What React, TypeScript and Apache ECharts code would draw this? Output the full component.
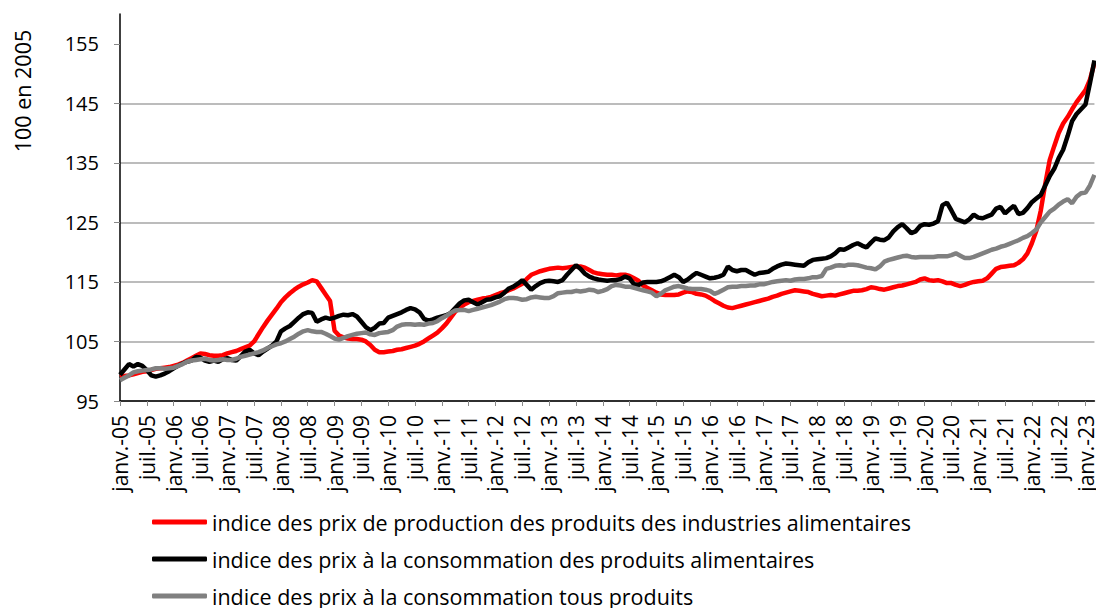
import React, { useEffect, useRef } from "react";
import * as echarts from "echarts";

const MONTHS = ["janv.", "févr.", "mars", "avr.", "mai", "juin", "juil.", "août", "sept.", "oct.", "nov.", "déc."];
const YEARS = ["05", "06", "07", "08", "09", "10", "11", "12", "13", "14", "15", "16", "17", "18", "19", "20", "21", "22", "23"];
const N_POINTS = 219; // janv.-05 .. mars-23

const categories: string[] = [];
for (const y of YEARS) for (const m of MONTHS) categories.push(`${m}-${y}`);
const cats = categories.slice(0, N_POINTS);

const Y_TICKS = [95, 105, 115, 125, 135, 145, 155];

const SERIES_NAMES = [
  "indice des prix de production des produits des industries alimentaires",
  "indice des prix à la consommation des produits alimentaires",
  "indice des prix à la consommation tous produits",
];

// indice des prix de production des produits des industries alimentaires
const ippia = [
  // 2005
  99.0, 99.2, 99.3, 99.5, 99.7, 99.9, 100.0, 100.2, 100.4, 100.5, 100.6, 100.7,
  // 2006
  100.9, 101.1, 101.4, 101.8, 102.2, 102.6, 103.0, 102.9, 102.7, 102.6, 102.6, 102.7,
  // 2007
  103.0, 103.2, 103.4, 103.7, 104.0, 104.3, 105.0, 106.2, 107.4, 108.5, 109.5, 110.5,
  // 2008
  111.6, 112.4, 113.1, 113.7, 114.2, 114.6, 114.9, 115.3, 115.1, 114.0, 112.9, 111.8,
  // 2009
  106.8, 106.0, 105.7, 105.5, 105.4, 105.4, 105.3, 105.0, 104.4, 103.6, 103.2, 103.2,
  // 2010
  103.3, 103.4, 103.6, 103.7, 103.9, 104.1, 104.3, 104.6, 105.0, 105.5, 106.0, 106.5,
  // 2011
  107.2, 108.0, 109.0, 110.0, 110.7, 111.2, 111.6, 111.8, 112.0, 112.2, 112.3, 112.5,
  // 2012
  112.8, 113.1, 113.3, 113.6, 113.9, 114.3, 114.7, 115.5, 116.2, 116.5, 116.8, 117.0,
  // 2013
  117.2, 117.3, 117.4, 117.3, 117.4, 117.5, 117.6, 117.6, 117.4, 117.0, 116.6, 116.4,
  // 2014
  116.3, 116.2, 116.2, 116.1, 116.2, 116.2, 116.0, 115.6, 115.2, 114.4, 114.0, 113.6,
  // 2015
  113.2, 112.9, 112.8, 112.8, 112.8, 112.9, 113.2, 113.4, 113.3, 113.0, 112.9, 112.7,
  // 2016
  112.3, 111.8, 111.4, 111.0, 110.7, 110.6, 110.8, 111.0, 111.2, 111.4, 111.6, 111.8,
  // 2017
  112.0, 112.2, 112.5, 112.7, 113.0, 113.2, 113.4, 113.6, 113.5, 113.4, 113.3, 113.0,
  // 2018
  112.8, 112.6, 112.7, 112.8, 112.7, 112.9, 113.1, 113.3, 113.5, 113.5, 113.6, 113.8,
  // 2019
  114.1, 114.0, 113.8, 113.7, 113.9, 114.1, 114.3, 114.4, 114.6, 114.8, 115.0, 115.4,
  // 2020
  115.6, 115.3, 115.2, 115.3, 115.1, 114.8, 114.8, 114.5, 114.3, 114.5, 114.8, 115.0,
  // 2021
  115.1, 115.2, 115.6, 116.4, 117.2, 117.5, 117.6, 117.7, 117.8, 118.2, 118.8, 119.8,
  // 2022
  121.5, 123.6, 127.0, 131.5, 135.5, 137.8, 140.0, 141.6, 142.7, 144.0, 145.2, 146.2,
  // 2023
  147.2, 149.0, 151.8,
];

// indice des prix à la consommation des produits alimentaires
const ipcAlim = [
  // 2005
  99.4, 100.3, 101.2, 100.8, 101.2, 100.9, 100.2, 99.3, 99.1, 99.3, 99.6, 100.0,
  // 2006
  100.5, 100.9, 101.3, 101.6, 101.8, 102.4, 102.3, 101.8, 101.6, 101.8, 101.6, 102.0,
  // 2007
  102.2, 101.9, 101.8, 102.5, 103.3, 103.6, 103.0, 102.7, 103.3, 103.8, 104.3, 105.0,
  // 2008
  106.7, 107.2, 107.6, 108.3, 109.0, 109.6, 109.9, 109.8, 108.3, 108.7, 109.0, 108.8,
  // 2009
  109.0, 109.3, 109.5, 109.4, 109.6, 109.2, 108.3, 107.4, 106.9, 107.3, 108.0, 108.1,
  // 2010
  109.0, 109.3, 109.6, 109.9, 110.3, 110.6, 110.4, 109.9, 108.8, 108.5, 108.7, 109.0,
  // 2011
  109.2, 109.4, 109.8, 110.6, 111.4, 111.9, 112.0, 111.6, 111.2, 111.6, 112.0, 112.1,
  // 2012
  112.4, 112.6, 113.2, 113.9, 114.2, 114.7, 115.3, 114.5, 113.7, 114.3, 114.8, 115.1,
  // 2013
  115.2, 115.1, 115.0, 115.3, 116.2, 117.0, 117.8, 117.2, 116.4, 115.9, 115.6, 115.4,
  // 2014
  115.3, 115.2, 115.3, 115.3, 115.5, 115.9, 115.6, 114.6, 114.5, 114.9, 115.0, 115.0,
  // 2015
  115.0, 115.1, 115.4, 115.8, 116.2, 115.8, 115.0, 115.4, 116.0, 116.5, 116.2, 115.9,
  // 2016
  115.6, 115.7, 115.9, 116.2, 117.6, 117.0, 116.8, 117.0, 117.0, 116.6, 116.2, 116.5,
  // 2017
  116.6, 116.7, 117.2, 117.6, 117.9, 118.1, 118.0, 117.9, 117.8, 117.7, 118.3, 118.7,
  // 2018
  118.8, 118.9, 119.0, 119.3, 119.8, 120.5, 120.4, 120.8, 121.2, 121.5, 121.1, 120.8,
  // 2019
  121.6, 122.3, 122.1, 122.0, 122.5, 123.5, 124.2, 124.7, 124.0, 123.2, 123.5, 124.4,
  // 2020
  124.7, 124.6, 124.8, 125.2, 127.9, 128.3, 127.0, 125.6, 125.3, 125.0, 125.5, 126.3,
  // 2021
  125.8, 125.7, 126.0, 126.3, 127.3, 127.6, 126.5, 127.2, 127.8, 126.4, 126.6, 127.4,
  // 2022
  128.4, 129.0, 129.6, 131.2, 132.8, 134.0, 135.8, 137.2, 139.5, 142.0, 143.2, 144.0,
  // 2023
  144.8, 148.4, 152.2,
];

// indice des prix à la consommation tous produits
const ipcTous = [
  // 2005
  98.5, 98.9, 99.3, 99.8, 100.0, 100.1, 100.2, 100.3, 100.5, 100.5, 100.4, 100.5,
  // 2006
  100.6, 100.9, 101.2, 101.6, 101.8, 101.9, 102.0, 102.1, 101.9, 101.8, 101.9, 102.0,
  // 2007
  101.9, 101.9, 102.1, 102.4, 102.6, 102.8, 103.0, 103.2, 103.5, 103.9, 104.2, 104.5,
  // 2008
  104.7, 105.0, 105.4, 105.8, 106.3, 106.7, 106.9, 106.7, 106.6, 106.6, 106.3, 105.9,
  // 2009
  105.5, 105.3, 105.6, 105.9, 106.1, 106.3, 106.4, 106.5, 106.2, 106.1, 106.4, 106.5,
  // 2010
  106.6, 106.9, 107.5, 107.8, 107.9, 107.9, 107.8, 107.9, 107.8, 108.0, 108.1, 108.4,
  // 2011
  108.9, 109.3, 109.8, 110.2, 110.3, 110.3, 110.1, 110.3, 110.5, 110.7, 110.9, 111.1,
  // 2012
  111.4, 111.7, 112.1, 112.3, 112.3, 112.2, 112.0, 112.1, 112.4, 112.5, 112.4, 112.3,
  // 2013
  112.3, 112.6, 113.1, 113.2, 113.3, 113.3, 113.5, 113.4, 113.5, 113.7, 113.6, 113.3,
  // 2014
  113.5, 113.8, 114.3, 114.5, 114.4, 114.2, 114.2, 114.0, 113.8, 113.6, 113.4, 113.2,
  // 2015
  112.6, 113.0, 113.6, 113.9, 114.2, 114.3, 114.1, 113.9, 113.8, 113.8, 113.8, 113.7,
  // 2016
  113.5, 113.0, 113.3, 113.7, 114.1, 114.2, 114.2, 114.3, 114.3, 114.4, 114.4, 114.6,
  // 2017
  114.6, 114.8, 115.0, 115.1, 115.2, 115.3, 115.2, 115.4, 115.5, 115.5, 115.6, 115.8,
  // 2018
  115.8, 116.0, 117.2, 117.4, 117.7, 117.8, 117.7, 117.9, 117.9, 117.8, 117.6, 117.4,
  // 2019
  117.3, 117.1, 117.6, 118.4, 118.7, 118.9, 119.1, 119.3, 119.4, 119.2, 119.1, 119.2,
  // 2020
  119.2, 119.2, 119.2, 119.3, 119.3, 119.3, 119.5, 119.8, 119.4, 119.0, 119.0, 119.2,
  // 2021
  119.5, 119.8, 120.1, 120.4, 120.6, 120.9, 121.1, 121.4, 121.7, 122.0, 122.4, 122.7,
  // 2022
  123.2, 123.8, 125.0, 125.9, 126.8, 127.3, 128.0, 128.5, 128.9, 128.2, 129.3, 129.9,
  // 2023
  130.0, 131.2, 133.0,
];

const FONT = "'Open Sans', 'DejaVu Sans', sans-serif";

export default function App() {
  const ref = useRef<HTMLDivElement>(null);

  useEffect(() => {
    if (!ref.current) return;
    const chart = echarts.init(ref.current, undefined, { renderer: "svg" });
    const colors = ["#ff0000", "#000000", "#808080"];
    const datas = [ippia, ipcAlim, ipcTous];
    chart.setOption({
      animation: false,
      textStyle: { fontFamily: FONT },
      grid: { left: 120, right: 1, top: 14, bottom: 207, containLabel: false },
      legend: {
        orient: "vertical",
        left: 152,
        top: 511,
        height: 100,
        padding: 0,
        itemWidth: 55,
        itemHeight: 5,
        itemGap: 15,
        icon: "roundRect",
        textStyle: { fontSize: 21.5, color: "#000", fontFamily: FONT, lineHeight: 21 },
        data: SERIES_NAMES,
      },
      xAxis: {
        type: "category",
        data: cats,
        boundaryGap: false,
        axisLine: { lineStyle: { color: "#000", width: 1.5 } },
        axisTick: { show: true, interval: 5, length: 5, lineStyle: { color: "#888" } },
        axisLabel: {
          interval: 5,
          rotate: 90,
          margin: 14,
          fontSize: 21,
          color: "#000",
          fontFamily: FONT,
        },
        splitLine: { show: false },
      },
      yAxis: {
        type: "value",
        min: 95,
        max: 160,
        interval: 10,
        axisLine: { show: true, lineStyle: { color: "#000", width: 1.5 } },
        axisTick: { show: true, length: 6, lineStyle: { color: "#888" }, customValues: Y_TICKS },
        axisLabel: {
          fontSize: 20,
          color: "#000",
          margin: 21,
          fontFamily: FONT,
          customValues: Y_TICKS,
        },
        splitLine: { show: true, showMaxLine: false, lineStyle: { color: "#a6a6a6", width: 1.5 } },
      },
      graphic: [
        {
          type: "text",
          x: 22,
          y: 91,
          rotation: Math.PI / 2,
          style: {
            text: "100 en 2005",
            fontSize: 21.5,
            fontFamily: FONT,
            fill: "#000",
            align: "center",
            verticalAlign: "middle",
          },
        },
      ],
      series: SERIES_NAMES.map((name, k) => ({
        name,
        type: "line",
        data: datas[k],
        symbol: "none",
        color: colors[k],
        lineStyle: { width: 4.5, color: colors[k] },
        z: 2 + k,
      })),
    });
    return () => chart.dispose();
  }, []);

  return (
    <div
      ref={ref}
      style={{ position: "fixed", left: 0, top: 0, width: 1096, height: 608, background: "#fff" }}
    />
  );
}
